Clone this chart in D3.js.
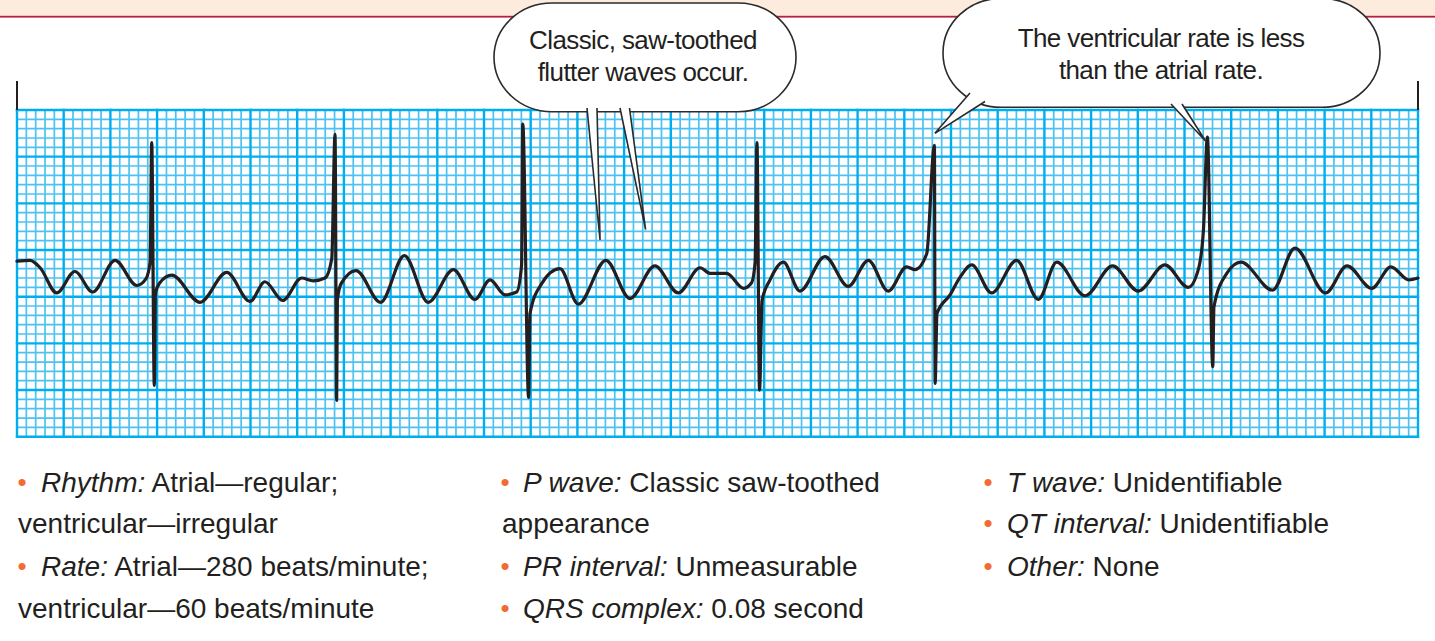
<!DOCTYPE html>
<html>
<head>
<meta charset="utf-8">
<script src="https://cdn.jsdelivr.net/npm/d3@7"></script>
<style>
  html, body { margin: 0; padding: 0; background: #ffffff; }
  svg { display: block; }
</style>
</head>
<body>
<svg id="chart" width="1435" height="641"></svg>
<script>
// ---------------- DATA ----------------
// Strip extent: 6 seconds of paper, 3.5 mV tall (30 x 7 large boxes)
const stripSeconds = [0, 6];
const stripMillivolts = [-1.75, 1.75];
const smallBoxSeconds = 0.04;
const smallBoxMillivolts = 0.1;

// ECG trace (time in s, amplitude in mV)
const traceTime = [0.000,0.056,0.099,0.170,0.248,0.324,0.420,0.513,0.552,0.570,0.577,0.588,0.593,0.612,0.663,0.784,0.898,0.998,1.062,1.138,1.219,1.269,1.319,1.348,1.362,1.369,1.372,1.388,1.452,1.557,1.659,1.761,1.869,1.961,2.026,2.090,2.140,2.161,2.166,2.191,2.197,2.247,2.325,2.404,2.522,2.625,2.732,2.832,2.925,2.968,3.039,3.111,3.146,3.161,3.169,3.180,3.191,3.225,3.282,3.353,3.460,3.560,3.646,3.731,3.810,3.846,3.896,3.929,3.932,3.940,3.996,4.039,4.089,4.174,4.281,4.374,4.453,4.574,4.692,4.802,4.916,5.016,5.059,5.081,5.098,5.121,5.126,5.181,5.242,5.377,5.473,5.604,5.696,5.802,5.884,5.961,6.000];
const traceMv = [0.13,0.14,0.06,-0.21,0.02,-0.20,0.14,-0.13,-0.06,0.12,1.40,-1.20,-0.21,-0.10,-0.02,-0.31,0.01,-0.30,-0.09,-0.29,-0.05,-0.08,-0.05,0.16,1.49,-1.36,-0.29,-0.11,0.03,-0.31,0.19,-0.31,0.04,-0.28,-0.07,-0.23,-0.20,0.09,1.60,-1.33,-0.43,-0.11,0.05,-0.33,0.14,-0.27,0.08,-0.21,0.06,0.00,0.00,-0.16,-0.10,0.12,1.40,-1.25,-0.29,-0.07,0.12,-0.19,0.18,-0.14,0.14,-0.19,0.07,0.04,0.21,1.37,-1.18,-0.43,-0.23,-0.04,0.09,-0.21,0.14,-0.28,0.12,-0.24,0.08,-0.19,0.09,-0.15,0.04,0.46,1.46,-1.00,-0.36,0.00,0.12,-0.18,0.27,-0.21,0.08,-0.16,0.07,-0.07,-0.05];

// Callouts: text lines and the points (s, mV) their tails point at
const calloutLines = [
  ["Classic, saw-toothed", "flutter waves occur."],
  ["The ventricular rate is less", "than the atrial rate."]
];
const calloutTipTime = [[2.497, 2.692], [3.931, 5.090]];
const calloutTipMv = [[0.357, 0.469], [1.50, 1.418]];

// Findings listed under the strip (three columns)
const findingLabels = [
  ["Rhythm:", null, "Rate:", null],
  ["P wave:", null, "PR interval:", "QRS complex:"],
  ["T wave:", "QT interval:", "Other:"]
];
const findingTexts = [
  ["Atrial\u2014regular;", "ventricular\u2014irregular", "Atrial\u2014280 beats/minute;", "ventricular\u201460 beats/minute"],
  ["Classic saw-toothed", "appearance", "Unmeasurable", "0.08 second"],
  ["Unidentifiable", "Unidentifiable", "None"]
];

// ---------------- DRAWING ----------------
const svg = d3.select("#chart");
const FONT = "'Liberation Sans', Arial, 'DejaVu Sans', sans-serif";
const INK = "#231f20";

// header band
svg.append("rect").attr("x", 0).attr("y", 0).attr("width", 1435).attr("height", 16.3).attr("fill", "#fdecde");
svg.append("rect").attr("x", 0).attr("y", 15.8).attr("width", 1435).attr("height", 1.8).attr("fill", "#b3233f");

const x = d3.scaleLinear().domain(stripSeconds).range([17, 1418]);
const y = d3.scaleLinear().domain(stripMillivolts).range([436.7, 110]);

const grid = svg.append("g");
const nX = Math.round((stripSeconds[1] - stripSeconds[0]) / smallBoxSeconds);
const nY = Math.round((stripMillivolts[1] - stripMillivolts[0]) / smallBoxMillivolts);
const xs = d3.range(nX + 1).map(i => ({ i, v: stripSeconds[0] + i * smallBoxSeconds }));
const ys = d3.range(nY + 1).map(i => ({ i, v: stripMillivolts[0] + i * smallBoxMillivolts }));

// minor lines
grid.selectAll("line.vx").data(xs.filter(d => d.i % 5)).join("line")
  .attr("x1", d => x(d.v)).attr("x2", d => x(d.v))
  .attr("y1", y(stripMillivolts[0])).attr("y2", y(stripMillivolts[1]))
  .attr("stroke", "#4cc2f1").attr("stroke-width", 1.7);
grid.selectAll("line.hy").data(ys.filter(d => d.i % 5)).join("line")
  .attr("y1", d => y(d.v)).attr("y2", d => y(d.v))
  .attr("x1", x(stripSeconds[0])).attr("x2", x(stripSeconds[1]))
  .attr("stroke", "#4cc2f1").attr("stroke-width", 1.7);
// major lines
grid.selectAll("line.VX").data(xs.filter(d => d.i % 5 === 0)).join("line")
  .attr("x1", d => x(d.v)).attr("x2", d => x(d.v))
  .attr("y1", y(stripMillivolts[0]) + 1.2).attr("y2", y(stripMillivolts[1]) - 1.2)
  .attr("stroke", "#00aeef").attr("stroke-width", 2.4);
grid.selectAll("line.HY").data(ys.filter(d => d.i % 5 === 0)).join("line")
  .attr("y1", d => y(d.v)).attr("y2", d => y(d.v))
  .attr("x1", x(stripSeconds[0]) - 1.2).attr("x2", x(stripSeconds[1]) + 1.2)
  .attr("stroke", "#00aeef").attr("stroke-width", 2.4);

// strip end markers
svg.selectAll("line.marker").data(stripSeconds).join("line")
  .attr("x1", d => x(d)).attr("x2", d => x(d))
  .attr("y1", y(stripMillivolts[1])).attr("y2", y(stripMillivolts[1]) - 29)
  .attr("stroke", INK).attr("stroke-width", 2);

// ECG trace
const pts = traceTime.map((t, i) => [t, traceMv[i]]);
const line = d3.line().x(d => x(d[0])).y(d => y(d[1])).curve(d3.curveMonotoneX);
svg.append("path").attr("d", line(pts))
  .attr("fill", "none").attr("stroke", INK).attr("stroke-width", 3.2)
  .attr("stroke-linejoin", "round").attr("stroke-linecap", "round");

// Callout bubbles
const bubbles = [
  { x0: 494, x1: 796, y0: 3, y1: 111.7, rx: 58, cx: 643, base: [49.3, 80.7],
    tails: [[[587, 108], [597, 108]], [[620, 108], [629.5, 108]]] },
  { x0: 943, x1: 1380, y0: -1.5, y1: 107.3, rx: 58, cx: 1161, base: [46.7, 79.3],
    tails: [[[970, 93], [985, 101.5]], [[1171, 104], [1182, 104]]] }
];
bubbles.forEach((b, bi) => {
  const g = svg.append("g");
  g.append("rect").attr("x", b.x0).attr("y", b.y0)
    .attr("width", b.x1 - b.x0).attr("height", b.y1 - b.y0)
    .attr("rx", b.rx).attr("ry", (b.y1 - b.y0) / 2)
    .attr("fill", "#ffffff").attr("stroke", "#2b2b2b").attr("stroke-width", 1.6);
  b.tails.forEach((base, ti) => {
    const tip = [x(calloutTipTime[bi][ti]), y(calloutTipMv[bi][ti])];
    g.append("path")
      .attr("d", `M${base[0][0]},${base[0][1]}L${tip[0]},${tip[1]}L${base[1][0]},${base[1][1]}`)
      .attr("fill", "#ffffff").attr("stroke", "#2b2b2b").attr("stroke-width", 1.6)
      .attr("stroke-linejoin", "miter");
  });
  calloutLines[bi].forEach((txt, li) => {
    g.append("text").attr("x", b.cx).attr("y", b.base[li])
      .attr("text-anchor", "middle").attr("font-family", FONT)
      .attr("font-size", 26).attr("letter-spacing", -0.6).attr("fill", INK)
      .text(txt);
  });
});

// Findings
const colLayout = [
  { bullet: 22, label: 41, cont: 18 },
  { bullet: 505, label: 523, cont: 502 },
  { bullet: 988, label: 1007, cont: 988 }
];
const baselines = [491.7, 533.3, 576.4, 618.3];
findingLabels.forEach((col, ci) => {
  const L = colLayout[ci];
  col.forEach((lab, ri) => {
    const by = baselines[ri];
    if (lab) {
      svg.append("text").attr("x", L.bullet).attr("y", by - 1)
        .attr("text-anchor", "middle").attr("font-family", FONT)
        .attr("font-size", 26).attr("fill", "#f26b30").text("\u2022");
      const t = svg.append("text").attr("x", L.label).attr("y", by)
        .attr("font-family", FONT).attr("font-size", 28).attr("fill", INK);
      t.append("tspan").attr("font-style", "italic").text(lab);
      t.append("tspan").text(" " + findingTexts[ci][ri]);
    } else {
      svg.append("text").attr("x", L.cont).attr("y", by)
        .attr("font-family", FONT).attr("font-size", 28).attr("fill", INK)
        .text(findingTexts[ci][ri]);
    }
  });
});
</script>
</body>
</html>
